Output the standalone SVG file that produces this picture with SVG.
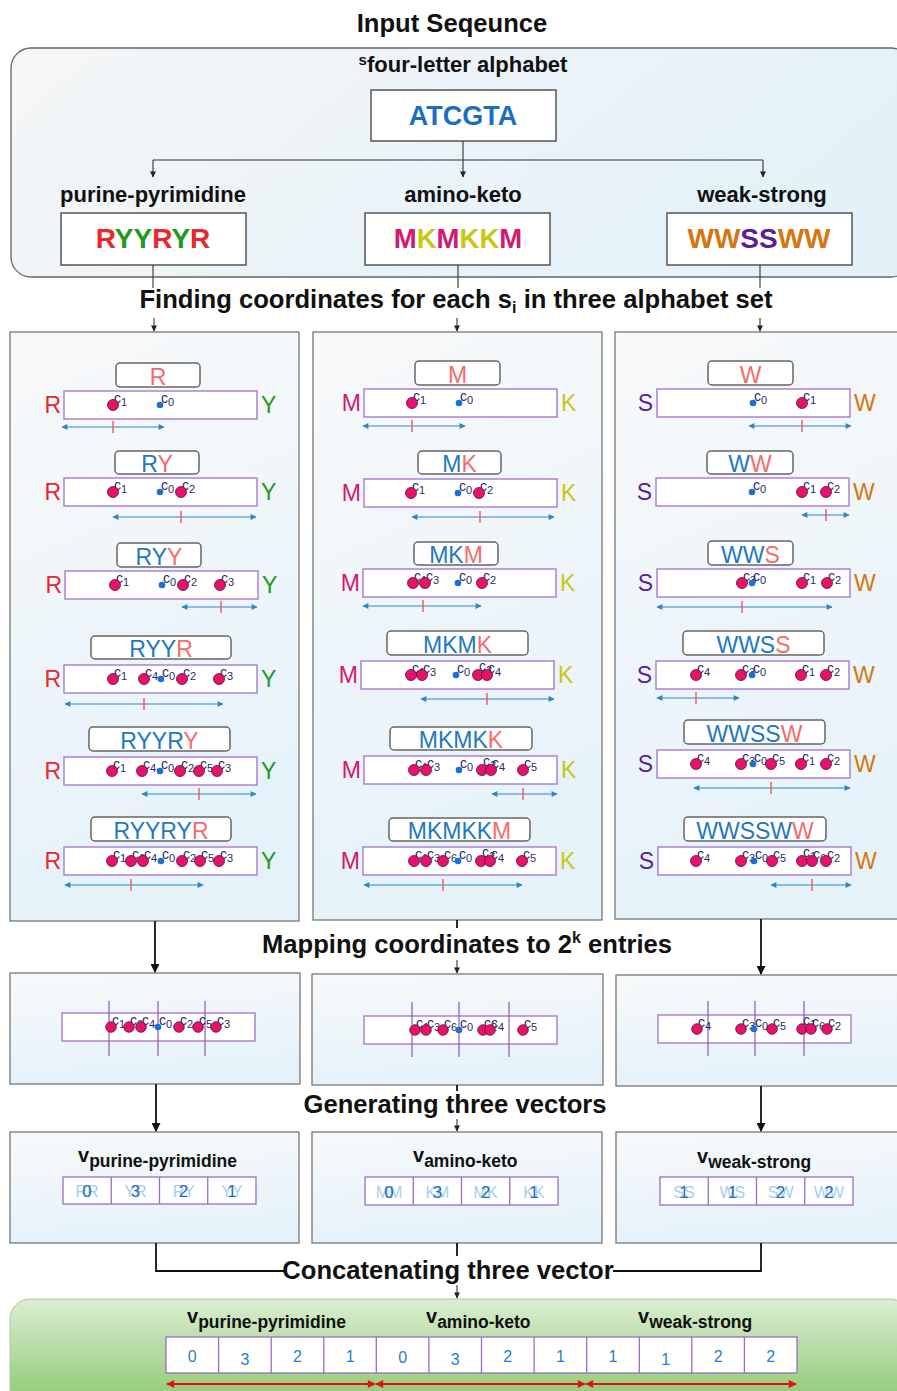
<svg xmlns="http://www.w3.org/2000/svg" width="897" height="1391" viewBox="0 0 897 1391">
<defs>
<linearGradient id="gTop" x1="0" y1="0" x2="1" y2="0.3"><stop offset="0" stop-color="#f5f6f7"/><stop offset="1" stop-color="#e3f1f9"/></linearGradient>
<linearGradient id="gPanel" x1="0" y1="0" x2="0.2" y2="1"><stop offset="0" stop-color="#f8f9fa"/><stop offset="1" stop-color="#e5f2fa"/></linearGradient>
<linearGradient id="gGreen" x1="0" y1="0" x2="0" y2="1"><stop offset="0" stop-color="#dcedd3"/><stop offset="0.8" stop-color="#8fc873"/><stop offset="1" stop-color="#86c468"/></linearGradient>
<marker id="ah" viewBox="0 0 10 10" refX="9" refY="5" markerWidth="11" markerHeight="9" markerUnits="userSpaceOnUse" orient="auto"><path d="M0,0 L10,5 L0,10 z" fill="#111"/></marker>
<marker id="ahs" viewBox="0 0 10 10" refX="9" refY="5" markerWidth="7" markerHeight="6" markerUnits="userSpaceOnUse" orient="auto"><path d="M0,0 L10,5 L0,10 z" fill="#222"/></marker>
<marker id="ab" viewBox="0 0 10 10" refX="9" refY="5" markerWidth="7" markerHeight="6" markerUnits="userSpaceOnUse" orient="auto-start-reverse"><path d="M0,0 L10,5 L0,10 z" fill="#2e86c8"/></marker>
<marker id="ar" viewBox="0 0 10 10" refX="9" refY="5" markerWidth="10" markerHeight="8" markerUnits="userSpaceOnUse" orient="auto-start-reverse"><path d="M0,0 L10,5 L0,10 z" fill="#e31212"/></marker>
</defs>
<style>
text{font-family:'Liberation Sans',Arial,sans-serif}
.t25{font-weight:bold;font-size:25.6px;fill:#111;text-anchor:middle}
.l22{font-weight:bold;font-size:22px;fill:#111;text-anchor:middle}
.box{fill:#fff;stroke:#555;stroke-width:1.5}
.panel{fill:url(#gPanel);stroke:#777;stroke-width:1.3}
.lbox{fill:#fff;stroke:#666;stroke-width:1.5}
.seq{font-size:23px;fill:#1e78c2;text-anchor:middle}
.hl{fill:#f66b6b}
.bar{fill:#fff;stroke:#a070d0;stroke-width:1.3}
.sl{font-size:23px;text-anchor:end}
.sr{font-size:23px}
.cR{fill:#e8282e}.cY{fill:#1f9a1f}.cM{fill:#d21870}.cK{fill:#c9c710}.cS{fill:#5a1e9c}.cW{fill:#d6760f}
.pd{fill:#e8126c;stroke:#5a1030;stroke-width:0.8}
.bd{fill:#1d6fd6}
.cl{font-size:14px;fill:#2a2a6a}
.sb{font-size:11px}
.rng{stroke:#2e86c8;stroke-width:1.2;marker-start:url(#ab);marker-end:url(#ab)}
.tk{stroke:#f06060;stroke-width:1.5}
.vl{stroke:#8a5ac0;stroke-width:1.2}
.cn{stroke:#111;stroke-width:1.8;fill:none}
.cs{stroke:#333;stroke-width:1.1;fill:none}
.vt{font-weight:bold;font-size:20px;fill:#111}
.vs{font-size:17.5px}
.cell{fill:#fff;stroke:#9a6ccc;stroke-width:1.3}
.pr{font-size:16px;fill:#a6cff0;text-anchor:middle}
.dg{font-size:17px;fill:#1d6fc0;text-anchor:middle}
.bdg{font-size:16px;fill:#2a7fc0;text-anchor:middle}
.red{stroke:#e31212;stroke-width:2;marker-start:url(#ar);marker-end:url(#ar)}
</style>

<text class="t25" x="452" y="32">Input Seqeunce</text>

<g id="input-panel">
<rect x="11" y="48" width="900" height="229" rx="20" fill="url(#gTop)" stroke="#666" stroke-width="1.3"/>
<text class="l22" x="463" y="72"><tspan font-size="15" dy="-7">s</tspan><tspan dy="7">four-letter alphabet</tspan></text>
</g>
<g id="node-atcgta">
<rect class="box" x="371" y="90" width="185" height="51"/>
<text x="463" y="125" font-weight="bold" font-size="27" fill="#1b6fc2" text-anchor="middle">ATCGTA</text>
</g>
<g id="node-pp">
<text class="l22" x="153" y="202">purine-pyrimidine</text>
<rect class="box" x="61" y="213" width="185" height="52"/>
<text x="153" y="248" font-weight="bold" font-size="28" text-anchor="middle"><tspan class="cR">R</tspan><tspan class="cY">YY</tspan><tspan class="cR">R</tspan><tspan class="cY">Y</tspan><tspan class="cR">R</tspan></text>
</g>
<g id="node-ak">
<text class="l22" x="463" y="202">amino-keto</text>
<rect class="box" x="365" y="213" width="185" height="52"/>
<text x="458" y="248" font-weight="bold" font-size="27.5" text-anchor="middle"><tspan class="cM">M</tspan><tspan class="cK">K</tspan><tspan class="cM">M</tspan><tspan class="cK">KK</tspan><tspan class="cM">M</tspan></text>
</g>
<g id="node-ws">
<text class="l22" x="762" y="202">weak-strong</text>
<rect class="box" x="667" y="213" width="185" height="52"/>
<text x="759" y="248" font-weight="bold" font-size="28" text-anchor="middle"><tspan class="cW">WW</tspan><tspan class="cS">SS</tspan><tspan class="cW">WW</tspan></text>
</g>

<text class="t25" x="456" y="308">Finding coordinates for each s<tspan font-size="16" dy="5">i</tspan><tspan dy="-5"> in three alphabet set</tspan></text>

<g id="coords-pp">
<rect class="panel" x="10" y="332" width="289" height="589"/>
<rect class="lbox" x="116" y="363" width="84" height="24" rx="4"/>
<text class="seq" x="158" y="385"><tspan class="hl">R</tspan></text>
<rect class="bar" x="64" y="391" width="193" height="28"/>
<text class="sl cR" x="61" y="413">R</text><text class="sr cY" x="261" y="413">Y</text>
<text class="cl" x="114" y="403">c<tspan class="sb" dy="3">1</tspan></text>
<text class="cl" x="161" y="403">c<tspan class="sb" dy="3">0</tspan></text>
<circle class="pd" cx="113" cy="405" r="5.5"/><circle class="bd" cx="160" cy="405" r="3.3"/>
<line class="rng" x1="62" y1="427" x2="164" y2="427"/><line class="tk" x1="113" y1="421" x2="113" y2="433"/>
<rect class="lbox" x="115" y="451" width="84" height="23" rx="4"/>
<text class="seq" x="157" y="472">R<tspan class="hl">Y</tspan></text>
<rect class="bar" x="64" y="478" width="193" height="28"/>
<text class="sl cR" x="61" y="500">R</text><text class="sr cY" x="261" y="500">Y</text>
<text class="cl" x="114" y="490">c<tspan class="sb" dy="3">1</tspan></text>
<text class="cl" x="161" y="490">c<tspan class="sb" dy="3">0</tspan></text>
<text class="cl" x="182" y="490">c<tspan class="sb" dy="3">2</tspan></text>
<circle class="pd" cx="113" cy="492" r="5.5"/><circle class="bd" cx="160" cy="492" r="3.3"/><circle class="pd" cx="181" cy="492" r="5.5"/>
<line class="rng" x1="113" y1="517" x2="256" y2="517"/><line class="tk" x1="181" y1="511" x2="181" y2="523"/>
<rect class="lbox" x="117" y="543" width="84" height="24" rx="4"/>
<text class="seq" x="159" y="565">RY<tspan class="hl">Y</tspan></text>
<rect class="bar" x="65" y="571" width="193" height="28"/>
<text class="sl cR" x="62" y="593">R</text><text class="sr cY" x="262" y="593">Y</text>
<text class="cl" x="116" y="583">c<tspan class="sb" dy="3">1</tspan></text>
<text class="cl" x="163" y="583">c<tspan class="sb" dy="3">0</tspan></text>
<text class="cl" x="184" y="583">c<tspan class="sb" dy="3">2</tspan></text>
<text class="cl" x="221" y="583">c<tspan class="sb" dy="3">3</tspan></text>
<circle class="pd" cx="115" cy="585" r="5.5"/><circle class="bd" cx="162" cy="585" r="3.3"/><circle class="pd" cx="183" cy="585" r="5.5"/><circle class="pd" cx="220" cy="585" r="5.5"/>
<line class="rng" x1="182" y1="607" x2="257" y2="607"/><line class="tk" x1="221" y1="601" x2="221" y2="613"/>
<rect class="lbox" x="91" y="636" width="140" height="23" rx="4"/>
<text class="seq" x="161" y="657">RYY<tspan class="hl">R</tspan></text>
<rect class="bar" x="64" y="665" width="193" height="28"/>
<text class="sl cR" x="61" y="687">R</text><text class="sr cY" x="261" y="687">Y</text>
<text class="cl" x="114" y="677">c<tspan class="sb" dy="3">1</tspan></text>
<text class="cl" x="145" y="677">c<tspan class="sb" dy="3">4</tspan></text>
<text class="cl" x="162" y="677">c<tspan class="sb" dy="3">0</tspan></text>
<text class="cl" x="183" y="677">c<tspan class="sb" dy="3">2</tspan></text>
<text class="cl" x="220" y="677">c<tspan class="sb" dy="3">3</tspan></text>
<circle class="pd" cx="113" cy="679" r="5.5"/><circle class="pd" cx="144" cy="679" r="5.5"/><circle class="bd" cx="161" cy="679" r="3.3"/><circle class="pd" cx="182" cy="679" r="5.5"/><circle class="pd" cx="219" cy="679" r="5.5"/>
<line class="rng" x1="65" y1="704" x2="223" y2="704"/><line class="tk" x1="144" y1="698" x2="144" y2="710"/>
<rect class="lbox" x="89" y="727" width="141" height="24" rx="4"/>
<text class="seq" x="159.5" y="749">RYYR<tspan class="hl">Y</tspan></text>
<rect class="bar" x="64" y="757" width="193" height="28"/>
<text class="sl cR" x="61" y="779">R</text><text class="sr cY" x="261" y="779">Y</text>
<text class="cl" x="113" y="769">c<tspan class="sb" dy="3">1</tspan></text>
<text class="cl" x="143" y="769">c<tspan class="sb" dy="3">4</tspan></text>
<text class="cl" x="161" y="769">c<tspan class="sb" dy="3">0</tspan></text>
<text class="cl" x="181" y="769">c<tspan class="sb" dy="3">2</tspan></text>
<text class="cl" x="200" y="769">c<tspan class="sb" dy="3">5</tspan></text>
<text class="cl" x="218" y="769">c<tspan class="sb" dy="3">3</tspan></text>
<circle class="pd" cx="112" cy="771" r="5.5"/><circle class="pd" cx="142" cy="771" r="5.5"/><circle class="bd" cx="160" cy="771" r="3.3"/><circle class="pd" cx="180" cy="771" r="5.5"/><circle class="pd" cx="199" cy="771" r="5.5"/><circle class="pd" cx="217" cy="771" r="5.5"/>
<line class="rng" x1="142" y1="794" x2="256" y2="794"/><line class="tk" x1="199" y1="788" x2="199" y2="800"/>
<rect class="lbox" x="91" y="817" width="140" height="24" rx="4"/>
<text class="seq" x="161" y="839">RYYRY<tspan class="hl">R</tspan></text>
<rect class="bar" x="64" y="847" width="193" height="28"/>
<text class="sl cR" x="61" y="869">R</text><text class="sr cY" x="261" y="869">Y</text>
<text class="cl" x="113" y="859">c<tspan class="sb" dy="3">1</tspan></text>
<text class="cl" x="132" y="859">c<tspan class="sb" dy="3">6</tspan></text>
<text class="cl" x="144" y="859">c<tspan class="sb" dy="3">4</tspan></text>
<text class="cl" x="162" y="859">c<tspan class="sb" dy="3">0</tspan></text>
<text class="cl" x="183" y="859">c<tspan class="sb" dy="3">2</tspan></text>
<text class="cl" x="201" y="859">c<tspan class="sb" dy="3">5</tspan></text>
<text class="cl" x="220" y="859">c<tspan class="sb" dy="3">3</tspan></text>
<circle class="pd" cx="112" cy="861" r="5.5"/><circle class="pd" cx="131" cy="861" r="5.5"/><circle class="pd" cx="143" cy="861" r="5.5"/><circle class="bd" cx="161" cy="861" r="3.3"/><circle class="pd" cx="182" cy="861" r="5.5"/><circle class="pd" cx="200" cy="861" r="5.5"/><circle class="pd" cx="219" cy="861" r="5.5"/>
<line class="rng" x1="65" y1="885" x2="203" y2="885"/><line class="tk" x1="131" y1="879" x2="131" y2="891"/>
</g>

<g id="coords-ak">
<rect class="panel" x="313" y="332" width="289" height="588"/>
<rect class="lbox" x="415" y="361" width="85" height="24" rx="4"/>
<text class="seq" x="457.5" y="383"><tspan class="hl">M</tspan></text>
<rect class="bar" x="364" y="389" width="193" height="28"/>
<text class="sl cM" x="361" y="411">M</text><text class="sr cK" x="561" y="411">K</text>
<text class="cl" x="413" y="401">c<tspan class="sb" dy="3">1</tspan></text>
<text class="cl" x="460" y="401">c<tspan class="sb" dy="3">0</tspan></text>
<circle class="pd" cx="412" cy="403" r="5.5"/><circle class="bd" cx="459" cy="403" r="3.3"/>
<line class="rng" x1="363" y1="426" x2="465" y2="426"/><line class="tk" x1="412" y1="420" x2="412" y2="432"/>
<rect class="lbox" x="418" y="451" width="83" height="23" rx="4"/>
<text class="seq" x="459.5" y="472">M<tspan class="hl">K</tspan></text>
<rect class="bar" x="364" y="479" width="193" height="28"/>
<text class="sl cM" x="361" y="501">M</text><text class="sr cK" x="561" y="501">K</text>
<text class="cl" x="412" y="491">c<tspan class="sb" dy="3">1</tspan></text>
<text class="cl" x="459" y="491">c<tspan class="sb" dy="3">0</tspan></text>
<text class="cl" x="480" y="491">c<tspan class="sb" dy="3">2</tspan></text>
<circle class="pd" cx="411" cy="493" r="5.5"/><circle class="bd" cx="458" cy="493" r="3.3"/><circle class="pd" cx="479" cy="493" r="5.5"/>
<line class="rng" x1="412" y1="517" x2="554" y2="517"/><line class="tk" x1="480" y1="511" x2="480" y2="523"/>
<rect class="lbox" x="414" y="542" width="84" height="23" rx="4"/>
<text class="seq" x="456" y="563">MK<tspan class="hl">M</tspan></text>
<rect class="bar" x="363" y="569" width="193" height="28"/>
<text class="sl cM" x="360" y="591">M</text><text class="sr cK" x="560" y="591">K</text>
<text class="cl" x="414" y="581">c<tspan class="sb" dy="3">1</tspan></text>
<text class="cl" x="426" y="581">c<tspan class="sb" dy="3">3</tspan></text>
<text class="cl" x="459" y="581">c<tspan class="sb" dy="3">0</tspan></text>
<text class="cl" x="483" y="581">c<tspan class="sb" dy="3">2</tspan></text>
<circle class="pd" cx="413" cy="583" r="5.5"/><circle class="pd" cx="425" cy="583" r="5.5"/><circle class="bd" cx="458" cy="583" r="3.3"/><circle class="pd" cx="482" cy="583" r="5.5"/>
<line class="rng" x1="363" y1="606" x2="481" y2="606"/><line class="tk" x1="423" y1="600" x2="423" y2="612"/>
<rect class="lbox" x="387" y="631" width="141" height="24" rx="4"/>
<text class="seq" x="457.5" y="653">MKM<tspan class="hl">K</tspan></text>
<rect class="bar" x="361" y="661" width="193" height="28"/>
<text class="sl cM" x="358" y="683">M</text><text class="sr cK" x="558" y="683">K</text>
<text class="cl" x="412" y="673">c<tspan class="sb" dy="3">1</tspan></text>
<text class="cl" x="423" y="673">c<tspan class="sb" dy="3">3</tspan></text>
<text class="cl" x="457" y="673">c<tspan class="sb" dy="3">0</tspan></text>
<text class="cl" x="479" y="671">c<tspan class="sb" dy="3">2</tspan></text>
<text class="cl" x="488" y="673">c<tspan class="sb" dy="3">4</tspan></text>
<circle class="pd" cx="411" cy="675" r="5.5"/><circle class="pd" cx="422" cy="675" r="5.5"/><circle class="bd" cx="456" cy="675" r="3.3"/><circle class="pd" cx="478" cy="675" r="5.5"/><circle class="pd" cx="487" cy="675" r="5.5"/>
<line class="rng" x1="421" y1="699" x2="554" y2="699"/><line class="tk" x1="487" y1="693" x2="487" y2="705"/>
<rect class="lbox" x="390" y="727" width="142" height="23" rx="4"/>
<text class="seq" x="461" y="748">MKMK<tspan class="hl">K</tspan></text>
<rect class="bar" x="364" y="756" width="193" height="28"/>
<text class="sl cM" x="361" y="778">M</text><text class="sr cK" x="561" y="778">K</text>
<text class="cl" x="415" y="768">c<tspan class="sb" dy="3">1</tspan></text>
<text class="cl" x="427" y="768">c<tspan class="sb" dy="3">3</tspan></text>
<text class="cl" x="460" y="768">c<tspan class="sb" dy="3">0</tspan></text>
<text class="cl" x="483" y="766">c<tspan class="sb" dy="3">2</tspan></text>
<text class="cl" x="492" y="768">c<tspan class="sb" dy="3">4</tspan></text>
<text class="cl" x="524" y="768">c<tspan class="sb" dy="3">5</tspan></text>
<circle class="pd" cx="414" cy="770" r="5.5"/><circle class="pd" cx="426" cy="770" r="5.5"/><circle class="bd" cx="459" cy="770" r="3.3"/><circle class="pd" cx="482" cy="770" r="5.5"/><circle class="pd" cx="491" cy="770" r="5.5"/><circle class="pd" cx="523" cy="770" r="5.5"/>
<line class="rng" x1="492" y1="794" x2="557" y2="794"/><line class="tk" x1="523" y1="788" x2="523" y2="800"/>
<rect class="lbox" x="389" y="818" width="141" height="23" rx="4"/>
<text class="seq" x="459.5" y="839">MKMKK<tspan class="hl">M</tspan></text>
<rect class="bar" x="363" y="847" width="193" height="28"/>
<text class="sl cM" x="360" y="869">M</text><text class="sr cK" x="560" y="869">K</text>
<text class="cl" x="415" y="859">c<tspan class="sb" dy="3">1</tspan></text>
<text class="cl" x="427" y="859">c<tspan class="sb" dy="3">3</tspan></text>
<text class="cl" x="444" y="859">c<tspan class="sb" dy="3">6</tspan></text>
<text class="cl" x="459" y="859">c<tspan class="sb" dy="3">0</tspan></text>
<text class="cl" x="482" y="857">c<tspan class="sb" dy="3">2</tspan></text>
<text class="cl" x="491" y="859">c<tspan class="sb" dy="3">4</tspan></text>
<text class="cl" x="523" y="859">c<tspan class="sb" dy="3">5</tspan></text>
<circle class="pd" cx="414" cy="861" r="5.5"/><circle class="pd" cx="426" cy="861" r="5.5"/><circle class="pd" cx="443" cy="861" r="5.5"/><circle class="bd" cx="458" cy="861" r="3.3"/><circle class="pd" cx="481" cy="861" r="5.5"/><circle class="pd" cx="490" cy="861" r="5.5"/><circle class="pd" cx="522" cy="861" r="5.5"/>
<line class="rng" x1="364" y1="885" x2="522" y2="885"/><line class="tk" x1="443" y1="879" x2="443" y2="891"/>
</g>

<g id="coords-ws">
<rect class="panel" x="615" y="332" width="290" height="587"/>
<rect class="lbox" x="708" y="361" width="85" height="24" rx="4"/>
<text class="seq" x="750.5" y="383"><tspan class="hl">W</tspan></text>
<rect class="bar" x="657" y="389" width="193" height="28"/>
<text class="sl cS" x="653" y="411">S</text><text class="sr cW" x="854" y="411">W</text>
<text class="cl" x="754" y="401">c<tspan class="sb" dy="3">0</tspan></text>
<text class="cl" x="803" y="401">c<tspan class="sb" dy="3">1</tspan></text>
<circle class="bd" cx="753" cy="403" r="3.3"/><circle class="pd" cx="802" cy="403" r="5.5"/>
<line class="rng" x1="749" y1="426" x2="851" y2="426"/><line class="tk" x1="802" y1="420" x2="802" y2="432"/>
<rect class="lbox" x="707" y="451" width="86" height="23" rx="4"/>
<text class="seq" x="750" y="472">W<tspan class="hl">W</tspan></text>
<rect class="bar" x="656" y="478" width="193" height="28"/>
<text class="sl cS" x="652" y="500">S</text><text class="sr cW" x="853" y="500">W</text>
<text class="cl" x="753" y="490">c<tspan class="sb" dy="3">0</tspan></text>
<text class="cl" x="803" y="490">c<tspan class="sb" dy="3">1</tspan></text>
<text class="cl" x="827" y="490">c<tspan class="sb" dy="3">2</tspan></text>
<circle class="bd" cx="752" cy="492" r="3.3"/><circle class="pd" cx="802" cy="492" r="5.5"/><circle class="pd" cx="826" cy="492" r="5.5"/>
<line class="rng" x1="802" y1="515" x2="849" y2="515"/><line class="tk" x1="826" y1="509" x2="826" y2="521"/>
<rect class="lbox" x="708" y="541" width="85" height="24" rx="4"/>
<text class="seq" x="750.5" y="563">WW<tspan class="hl">S</tspan></text>
<rect class="bar" x="657" y="569" width="193" height="28"/>
<text class="sl cS" x="653" y="591">S</text><text class="sr cW" x="854" y="591">W</text>
<text class="cl" x="743" y="581">c<tspan class="sb" dy="3">3</tspan></text>
<text class="cl" x="753" y="581">c<tspan class="sb" dy="3">0</tspan></text>
<text class="cl" x="803" y="581">c<tspan class="sb" dy="3">1</tspan></text>
<text class="cl" x="828" y="581">c<tspan class="sb" dy="3">2</tspan></text>
<circle class="pd" cx="742" cy="583" r="5.5"/><circle class="bd" cx="752" cy="583" r="3.3"/><circle class="pd" cx="802" cy="583" r="5.5"/><circle class="pd" cx="827" cy="583" r="5.5"/>
<line class="rng" x1="657" y1="607" x2="832" y2="607"/><line class="tk" x1="742" y1="601" x2="742" y2="613"/>
<rect class="lbox" x="683" y="631" width="141" height="24" rx="4"/>
<text class="seq" x="753.5" y="653">WWS<tspan class="hl">S</tspan></text>
<rect class="bar" x="656" y="661" width="193" height="28"/>
<text class="sl cS" x="652" y="683">S</text><text class="sr cW" x="853" y="683">W</text>
<text class="cl" x="697" y="673">c<tspan class="sb" dy="3">4</tspan></text>
<text class="cl" x="742" y="673">c<tspan class="sb" dy="3">3</tspan></text>
<text class="cl" x="753" y="673">c<tspan class="sb" dy="3">0</tspan></text>
<text class="cl" x="802" y="673">c<tspan class="sb" dy="3">1</tspan></text>
<text class="cl" x="827" y="673">c<tspan class="sb" dy="3">2</tspan></text>
<circle class="pd" cx="696" cy="675" r="5.5"/><circle class="pd" cx="741" cy="675" r="5.5"/><circle class="bd" cx="752" cy="675" r="3.3"/><circle class="pd" cx="801" cy="675" r="5.5"/><circle class="pd" cx="826" cy="675" r="5.5"/>
<line class="rng" x1="657" y1="698" x2="739" y2="698"/><line class="tk" x1="696" y1="692" x2="696" y2="704"/>
<rect class="lbox" x="684" y="720" width="141" height="24" rx="4"/>
<text class="seq" x="754.5" y="742">WWSS<tspan class="hl">W</tspan></text>
<rect class="bar" x="657" y="750" width="193" height="28"/>
<text class="sl cS" x="653" y="772">S</text><text class="sr cW" x="854" y="772">W</text>
<text class="cl" x="697" y="762">c<tspan class="sb" dy="3">4</tspan></text>
<text class="cl" x="742" y="762">c<tspan class="sb" dy="3">3</tspan></text>
<text class="cl" x="754" y="762">c<tspan class="sb" dy="3">0</tspan></text>
<text class="cl" x="772" y="762">c<tspan class="sb" dy="3">5</tspan></text>
<text class="cl" x="802" y="762">c<tspan class="sb" dy="3">1</tspan></text>
<text class="cl" x="827" y="762">c<tspan class="sb" dy="3">2</tspan></text>
<circle class="pd" cx="696" cy="764" r="5.5"/><circle class="pd" cx="741" cy="764" r="5.5"/><circle class="bd" cx="753" cy="764" r="3.3"/><circle class="pd" cx="771" cy="764" r="5.5"/><circle class="pd" cx="801" cy="764" r="5.5"/><circle class="pd" cx="826" cy="764" r="5.5"/>
<line class="rng" x1="694" y1="788" x2="850" y2="788"/><line class="tk" x1="771" y1="782" x2="771" y2="794"/>
<rect class="lbox" x="684" y="817" width="142" height="24" rx="4"/>
<text class="seq" x="755" y="839">WWSSW<tspan class="hl">W</tspan></text>
<rect class="bar" x="658" y="847" width="193" height="28"/>
<text class="sl cS" x="654" y="869">S</text><text class="sr cW" x="855" y="869">W</text>
<text class="cl" x="697" y="859">c<tspan class="sb" dy="3">4</tspan></text>
<text class="cl" x="742" y="859">c<tspan class="sb" dy="3">3</tspan></text>
<text class="cl" x="755" y="859">c<tspan class="sb" dy="3">0</tspan></text>
<text class="cl" x="773" y="859">c<tspan class="sb" dy="3">5</tspan></text>
<text class="cl" x="803" y="857">c<tspan class="sb" dy="3">1</tspan></text>
<text class="cl" x="813" y="859">c<tspan class="sb" dy="3">6</tspan></text>
<text class="cl" x="827" y="859">c<tspan class="sb" dy="3">2</tspan></text>
<circle class="pd" cx="696" cy="861" r="5.5"/><circle class="pd" cx="741" cy="861" r="5.5"/><circle class="bd" cx="754" cy="861" r="3.3"/><circle class="pd" cx="772" cy="861" r="5.5"/><circle class="pd" cx="802" cy="861" r="5.5"/><circle class="pd" cx="812" cy="861" r="5.5"/><circle class="pd" cx="826" cy="861" r="5.5"/>
<line class="rng" x1="771" y1="885" x2="851" y2="885"/><line class="tk" x1="812" y1="879" x2="812" y2="891"/>
</g>

<text class="t25" x="467" y="953">Mapping coordinates to 2<tspan font-size="16" dy="-10">k</tspan><tspan dy="10"> entries</tspan></text>

<g id="map-pp">
<rect class="panel" x="10" y="973" width="290" height="111"/>
<rect class="bar" x="62" y="1013" width="193" height="28"/>
<line class="vl" x1="109" y1="1001" x2="109" y2="1056"/><line class="vl" x1="158" y1="1001" x2="158" y2="1056"/><line class="vl" x1="205" y1="1001" x2="205" y2="1056"/>
<text class="cl" x="112" y="1025">c<tspan class="sb" dy="3">1</tspan></text>
<text class="cl" x="130" y="1025">c<tspan class="sb" dy="3">6</tspan></text>
<text class="cl" x="142" y="1025">c<tspan class="sb" dy="3">4</tspan></text>
<text class="cl" x="159" y="1025">c<tspan class="sb" dy="3">0</tspan></text>
<text class="cl" x="180" y="1025">c<tspan class="sb" dy="3">2</tspan></text>
<text class="cl" x="199" y="1025">c<tspan class="sb" dy="3">5</tspan></text>
<text class="cl" x="217" y="1025">c<tspan class="sb" dy="3">3</tspan></text>
<circle class="pd" cx="111" cy="1027" r="5.3"/><circle class="pd" cx="129" cy="1027" r="5.3"/><circle class="pd" cx="141" cy="1027" r="5.3"/><circle class="bd" cx="158" cy="1027" r="3.3"/><circle class="pd" cx="179" cy="1027" r="5.3"/><circle class="pd" cx="198" cy="1027" r="5.3"/><circle class="pd" cx="216" cy="1027" r="5.3"/>
</g>
<g id="map-ak">
<rect class="panel" x="312" y="974" width="291" height="111"/>
<rect class="bar" x="364" y="1016" width="193" height="28"/>
<line class="vl" x1="412" y1="1002" x2="412" y2="1057"/><line class="vl" x1="459" y1="1002" x2="459" y2="1057"/><line class="vl" x1="509" y1="1002" x2="509" y2="1057"/>
<text class="cl" x="416" y="1028">c<tspan class="sb" dy="3">1</tspan></text>
<text class="cl" x="427" y="1028">c<tspan class="sb" dy="3">3</tspan></text>
<text class="cl" x="444" y="1028">c<tspan class="sb" dy="3">6</tspan></text>
<text class="cl" x="460" y="1028">c<tspan class="sb" dy="3">0</tspan></text>
<text class="cl" x="484" y="1028">c<tspan class="sb" dy="3">2</tspan></text>
<text class="cl" x="491" y="1028">c<tspan class="sb" dy="3">4</tspan></text>
<text class="cl" x="524" y="1028">c<tspan class="sb" dy="3">5</tspan></text>
<circle class="pd" cx="415" cy="1030" r="5.3"/><circle class="pd" cx="426" cy="1030" r="5.3"/><circle class="pd" cx="443" cy="1030" r="5.3"/><circle class="bd" cx="459" cy="1030" r="3.3"/><circle class="pd" cx="483" cy="1030" r="5.3"/><circle class="pd" cx="490" cy="1030" r="5.3"/><circle class="pd" cx="523" cy="1030" r="5.3"/>
</g>
<g id="map-ws">
<rect class="panel" x="616" y="975" width="290" height="111"/>
<rect class="bar" x="658" y="1015" width="193" height="28"/>
<line class="vl" x1="708" y1="1001" x2="708" y2="1056"/><line class="vl" x1="755" y1="1001" x2="755" y2="1056"/><line class="vl" x1="804" y1="1001" x2="804" y2="1056"/>
<text class="cl" x="698" y="1027">c<tspan class="sb" dy="3">4</tspan></text>
<text class="cl" x="742" y="1027">c<tspan class="sb" dy="3">3</tspan></text>
<text class="cl" x="755" y="1027">c<tspan class="sb" dy="3">0</tspan></text>
<text class="cl" x="773" y="1027">c<tspan class="sb" dy="3">5</tspan></text>
<text class="cl" x="803" y="1025">c<tspan class="sb" dy="3">1</tspan></text>
<text class="cl" x="812" y="1027">c<tspan class="sb" dy="3">6</tspan></text>
<text class="cl" x="828" y="1027">c<tspan class="sb" dy="3">2</tspan></text>
<circle class="pd" cx="697" cy="1029" r="5.3"/><circle class="pd" cx="741" cy="1029" r="5.3"/><circle class="bd" cx="754" cy="1029" r="3.3"/><circle class="pd" cx="772" cy="1029" r="5.3"/><circle class="pd" cx="802" cy="1029" r="5.3"/><circle class="pd" cx="811" cy="1029" r="5.3"/><circle class="pd" cx="827" cy="1029" r="5.3"/>
</g>

<text class="t25" x="455" y="1113">Generating three vectors</text>

<g id="vec-pp">
<rect class="panel" x="10" y="1132" width="289" height="111"/>
<text class="vt" x="78" y="1162">v<tspan class="vs" dy="5">purine-pyrimidine</tspan></text>
<rect class="cell" x="63" y="1177" width="193" height="27"/>
<path class="cell" d="M111.25,1177V1204M159.5,1177V1204M207.75,1177V1204"/>
<text class="pr" x="87" y="1197">RR</text><text class="dg" x="87" y="1197">0</text>
<text class="pr" x="135.4" y="1197">YR</text><text class="dg" x="135.4" y="1197">3</text>
<text class="pr" x="183.6" y="1197">RY</text><text class="dg" x="183.6" y="1197">2</text>
<text class="pr" x="231.9" y="1197">YY</text><text class="dg" x="231.9" y="1197">1</text>
</g>
<g id="vec-ak">
<rect class="panel" x="312" y="1132" width="290" height="111"/>
<text class="vt" x="413" y="1162">v<tspan class="vs" dy="5">amino-keto</tspan></text>
<rect class="cell" x="365" y="1177" width="193" height="28"/>
<path class="cell" d="M413.25,1177V1205M461.5,1177V1205M509.75,1177V1205"/>
<text class="pr" x="389" y="1198">MM</text><text class="dg" x="389" y="1198">0</text>
<text class="pr" x="437.4" y="1198">KM</text><text class="dg" x="437.4" y="1198">3</text>
<text class="pr" x="485.6" y="1198">MK</text><text class="dg" x="485.6" y="1198">2</text>
<text class="pr" x="533.9" y="1198">KK</text><text class="dg" x="533.9" y="1198">1</text>
</g>
<g id="vec-ws">
<rect class="panel" x="616" y="1132" width="290" height="111"/>
<text class="vt" x="697" y="1163">v<tspan class="vs" dy="5">weak-strong</tspan></text>
<rect class="cell" x="660" y="1177" width="193" height="28"/>
<path class="cell" d="M708.25,1177V1205M756.5,1177V1205M804.75,1177V1205"/>
<text class="pr" x="684" y="1198">SS</text><text class="dg" x="684" y="1198">1</text>
<text class="pr" x="732.4" y="1198">WS</text><text class="dg" x="732.4" y="1198">1</text>
<text class="pr" x="780.6" y="1198">SW</text><text class="dg" x="780.6" y="1198">2</text>
<text class="pr" x="828.9" y="1198">WW</text><text class="dg" x="828.9" y="1198">2</text>
</g>

<text class="t25" x="448" y="1279">Concatenating three vector</text>

<g id="final-vector">
<rect x="10" y="1299" width="900" height="130" rx="20" fill="url(#gGreen)" stroke="#a9c99a" stroke-width="1"/>
<text class="vt" x="187" y="1323">v<tspan class="vs" dy="5">purine-pyrimidine</tspan></text>
<text class="vt" x="426" y="1323">v<tspan class="vs" dy="5">amino-keto</tspan></text>
<text class="vt" x="638" y="1323">v<tspan class="vs" dy="5">weak-strong</tspan></text>
<rect class="cell" x="166" y="1337" width="631" height="36"/>
<path class="cell" d="M218.6,1337V1373M271.2,1337V1373M323.8,1337V1373M376.3,1337V1373M428.9,1337V1373M481.5,1337V1373M534.1,1337V1373M586.7,1337V1373M639.3,1337V1373M691.8,1337V1373M744.4,1337V1373"/>
<text class="bdg" x="192.3" y="1362">0</text>
<text class="bdg" x="244.9" y="1365">3</text>
<text class="bdg" x="297.5" y="1362">2</text>
<text class="bdg" x="350.1" y="1362">1</text>
<text class="bdg" x="402.6" y="1363">0</text>
<text class="bdg" x="455.2" y="1365">3</text>
<text class="bdg" x="507.8" y="1362">2</text>
<text class="bdg" x="560.4" y="1362">1</text>
<text class="bdg" x="613" y="1362">1</text>
<text class="bdg" x="665.6" y="1365">1</text>
<text class="bdg" x="718.1" y="1362">2</text>
<text class="bdg" x="770.7" y="1362">2</text>
<line class="red" x1="167" y1="1384" x2="375" y2="1384"/>
<line class="red" x1="376" y1="1384" x2="585" y2="1384"/>
<line class="red" x1="586" y1="1384" x2="796" y2="1384"/>
</g>

<g id="connectors">
<path class="cs" d="M463,141V160M153,160H763"/>
<path class="cs" d="M153,160V177" marker-end="url(#ahs)"/>
<path class="cs" d="M463,160V177" marker-end="url(#ahs)"/>
<path class="cs" d="M763,160V177" marker-end="url(#ahs)"/>
<path class="cs" d="M153,265V288M458,265V288M760,265V288"/>
<path class="cs" d="M154,318V331" marker-end="url(#ahs)"/>
<path class="cs" d="M457,318V331" marker-end="url(#ahs)"/>
<path class="cs" d="M760,318V331" marker-end="url(#ahs)"/>
<path class="cn" d="M155,921V972" marker-end="url(#ah)"/>
<path class="cn" d="M457,920V928"/>
<path class="cs" d="M457,960V973" marker-end="url(#ahs)"/>
<path class="cn" d="M761,919V974" marker-end="url(#ah)"/>
<path class="cn" d="M156,1084V1131" marker-end="url(#ah)"/>
<path class="cn" d="M457,1085V1091"/>
<path class="cs" d="M457,1119V1131" marker-end="url(#ahs)"/>
<path class="cn" d="M761,1086V1131" marker-end="url(#ah)"/>
<path class="cn" d="M156,1243V1271H284M613,1271H761V1243M457,1243V1256"/>
<path class="cs" d="M457,1285V1298" marker-end="url(#ahs)"/>
</g>
</svg>
